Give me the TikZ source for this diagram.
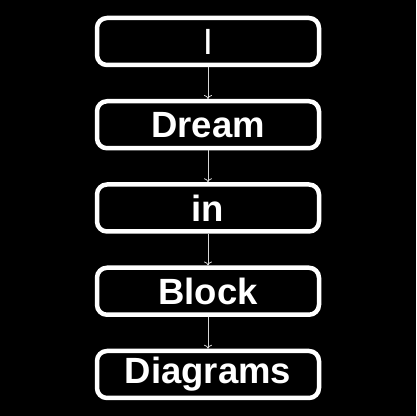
\documentclass[tikz,border=0pt]{standalone}
\usepackage{fontspec}
\usetikzlibrary{arrows.meta}
\newfontfamily\boxfont{Liberation Sans}
\begin{document}
\begin{tikzpicture}[x=1pt,y=1pt,
  blk/.style={draw=white, line width=4.5pt, rounded corners=10pt, fill=black,
    minimum width=222pt, minimum height=47pt, inner sep=0pt, text=white,
    font=\boxfont\bfseries\fontsize{36.5}{40}\selectfont},
  conn/.style={draw={rgb,255:red,215;green,215;blue,215}, line width=0.8pt, -{To[length=4pt,width=8pt]}}]
\fill[black] (0,0) rectangle (416,416);
\useasboundingbox (0,0) rectangle (416,416);
\node[blk, font=\boxfont\fontsize{36.5}{40}\selectfont] (b1) at (208,374.5) {I};
\node[blk] (b2) at (208,291.25) {Dream};
\node[blk] (b3) at (208,208) {in};
\node[blk] (b4) at (208,124.75) {Block};
\node[blk] (b5) at (208,41.5) {Diagrams};
\draw[conn] (b1) -- (b2);
\draw[conn] (b2) -- (b3);
\draw[conn] (b3) -- (b4);
\draw[conn] (b4) -- (b5);
\end{tikzpicture}
\end{document}
